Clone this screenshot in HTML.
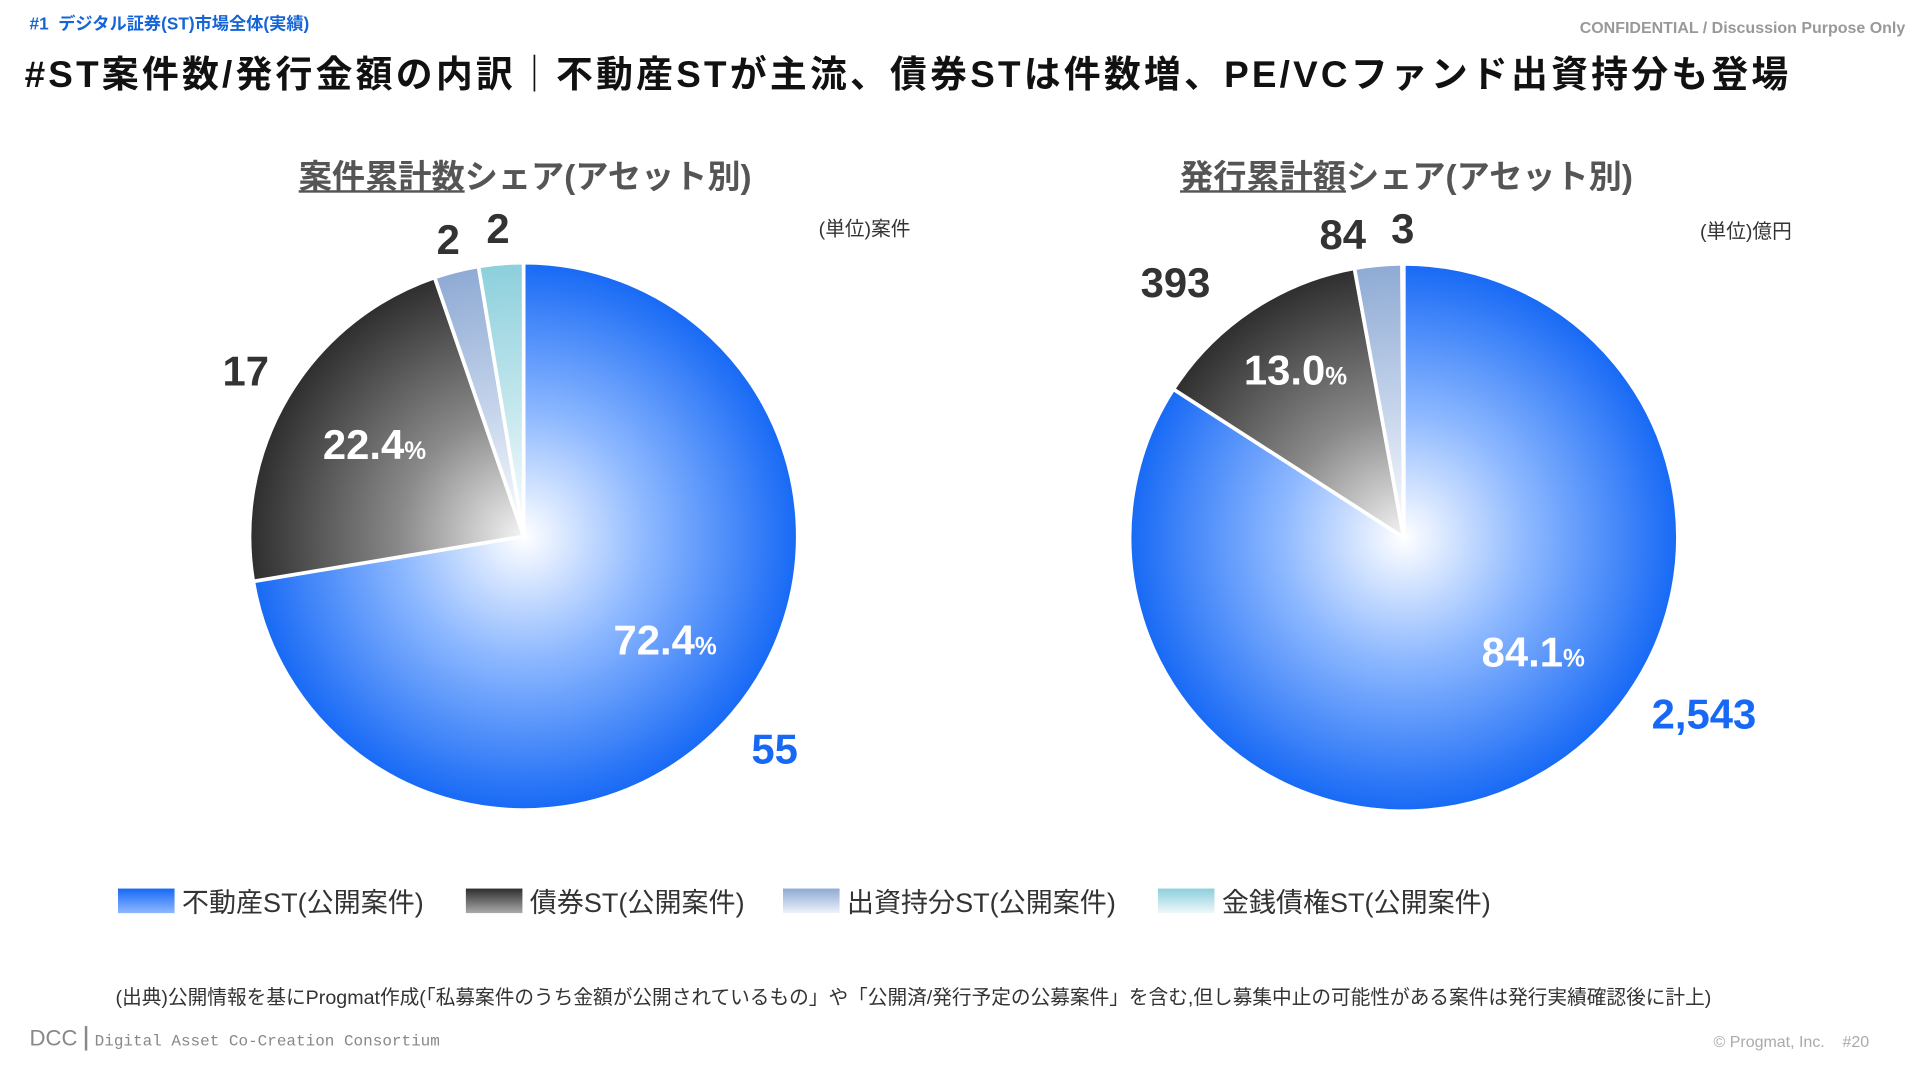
<!DOCTYPE html>
<html><head><meta charset="utf-8"><style>
html,body{margin:0;padding:0;background:#fff;width:1920px;height:1080px;overflow:hidden}
#wrap{position:absolute;left:0;top:0;width:1562px;height:880px;transform:scale(1.2292,1.2273);transform-origin:0 0;font-family:"Liberation Sans","Noto Sans CJK JP",sans-serif}
.t{position:absolute;white-space:nowrap}
.lg{position:absolute;top:718px;display:flex;align-items:center;font-size:22px;color:#333}
.sw{width:46px;height:20px;margin-right:6px}
</style></head><body>
<div id="wrap">
<div class="t" style="left:24px;top:9px;font-size:14px;font-weight:bold;color:#1565d8">#1&nbsp; デジタル証券(ST)市場全体(実績)</div>
<div class="t" style="right:12px;top:15px;font-size:13px;font-weight:bold;color:#999">CONFIDENTIAL / Discussion Purpose Only</div>
<div class="t" style="left:20px;top:36px;font-size:30px;letter-spacing:2.6px;font-weight:bold;color:#111">#ST案件数/発行金額の内訳｜不動産STが主流、債券STは件数増、PE/VCファンド出資持分も登場</div>
<div class="t" style="left:243px;top:122px;font-size:27px;font-weight:bold;color:#555"><u>案件累計数</u>シェア(アセット別)</div>
<div class="t" style="left:960px;top:122px;font-size:27px;font-weight:bold;color:#555"><u>発行累計額</u>シェア(アセット別)</div>
<div class="t" style="left:666px;top:173px;font-size:16px;color:#333">(単位)案件</div>
<div class="t" style="left:1383px;top:175px;font-size:16px;color:#333">(単位)億円</div>
<svg id="chart" width="1562" height="700" style="position:absolute;left:0;top:0">
<defs id="defs"></defs>
</svg>
<div class="lg" style="left:96px"><div class="sw" style="background:linear-gradient(#1769f5,#8db8ff)"></div>不動産ST(公開案件)</div>
<div class="lg" style="left:379px"><div class="sw" style="background:linear-gradient(#2e2e2e,#aaa)"></div>債券ST(公開案件)</div>
<div class="lg" style="left:637px"><div class="sw" style="background:linear-gradient(#8eaad4,#eef3fa)"></div>出資持分ST(公開案件)</div>
<div class="lg" style="left:942px"><div class="sw" style="background:linear-gradient(#8ccfdc,#eef8fa)"></div>金銭債権ST(公開案件)</div>
<div class="t" style="left:94px;top:799px;font-size:16px;color:#333">(出典)公開情報を基にProgmat作成(「私募案件のうち金額が公開されているもの」や「公開済/発行予定の公募案件」を含む,但し募集中止の可能性がある案件は発行実績確認後に計上)</div>
<div class="t" style="left:24px;top:836px;font-size:18px;color:#888">DCC<span style="border-left:2px solid #888;margin:0 6px"></span><span style="font-family:'Liberation Mono',monospace;font-size:13px">Digital Asset Co-Creation Consortium</span></div>
<div class="t" style="left:1394px;top:841px;font-size:13px;color:#aaa">© Progmat, Inc.&nbsp;&nbsp;&nbsp; #20</div>
</div>
<script>
const categories = ['不動産ST','債券ST','出資持分ST','金銭債権ST'];
const countValues = [55, 17, 2, 2];
const amountValues = [2543, 393, 84, 3];
const countLabels = ['55','17','2','2'];
const amountLabels = ['2,543','393','84','3'];
const stops = [['#ffffff','#8db8ff','#1769f5'],['#f4f4f4','#8a8a8a','#2e2e2e'],['#ffffff','#c8d6ec','#8eaad4'],['#ffffff','#c6e8ee','#8ccfdc']];
const labelColors = ['#1769f5','#333','#333','#333'];
const NS='http://www.w3.org/2000/svg';
const svg=document.getElementById('chart');
const defs=document.getElementById('defs');
function pt(cx,cy,r,a){return [cx+r*Math.sin(a),cy-r*Math.cos(a)];}
function mkText(x,y,fill,html,name){
  const t=document.createElementNS(NS,'text');
  t.setAttribute('x',x);t.setAttribute('y',y+12);t.setAttribute('text-anchor','middle');
  t.setAttribute('font-size','34');t.setAttribute('font-weight','bold');t.setAttribute('fill',fill);
  t.innerHTML=html;
  
  
  svg.appendChild(t);
}
function drawPie(name,cx,cy,r,vals,labs,outF,outShift,pctF,pctShift){
  const tot=vals.reduce((a,b)=>a+b,0);
  stops.forEach((s,i)=>{
    const g=document.createElementNS(NS,'radialGradient');
    g.setAttribute('id',name+'-g'+i);g.setAttribute('gradientUnits','userSpaceOnUse');
    g.setAttribute('cx',cx);g.setAttribute('cy',cy);g.setAttribute('r',r);
    g.innerHTML=`<stop offset="0" stop-color="${s[0]}"/><stop offset="0.45" stop-color="${s[1]}"/><stop offset="1" stop-color="${s[2]}"/>`;
    defs.appendChild(g);
  });
  let a0=0;
  vals.forEach((v,i)=>{
    const a1=a0+v/tot*2*Math.PI;
    const p0=pt(cx,cy,r,a0),p1=pt(cx,cy,r,a1);
    const large=(a1-a0)>Math.PI?1:0;
    const p=document.createElementNS(NS,'path');
    p.setAttribute('d',`M${cx},${cy}L${p0[0]},${p0[1]}A${r},${r} 0 ${large} 1 ${p1[0]},${p1[1]}Z`);
    p.setAttribute('fill','url(#'+name+'-g'+i+')');p.setAttribute('stroke','#fff');p.setAttribute('stroke-width','3');
    
    
    svg.appendChild(p);
    a0=a1;
  });
  a0=0;
  vals.forEach((v,i)=>{
    const a1=a0+v/tot*2*Math.PI, m=(a0+a1)/2;
    const q=pt(cx,cy,r*outF[i],m+outShift[i]*Math.PI/180);
    mkText(q[0],q[1],labelColors[i],labs[i],name+'-value-label-'+i);
    if(i<2){
      const q2=pt(cx,cy,r*pctF[i],m+pctShift[i]*Math.PI/180);
      mkText(q2[0],q2[1],'#fff',(v/tot*100).toFixed(1)+'<tspan font-size="20">%</tspan>',name+'-percent-label-'+i);
    }
    a0=a1;
  });
}
drawPie('count-pie',426,437,223,countValues,countLabels,[1.2,1.18,1.12,1.13],[0,0,0,0],[0.64,0.64],[-4,1]);
drawPie('amount-pie',1142,438,223,amountValues,amountLabels,[1.27,1.25,1.13,1.13],[-31,-8,-6,0],[0.63,0.73],[-20,1]);
</script>
</body></html>
